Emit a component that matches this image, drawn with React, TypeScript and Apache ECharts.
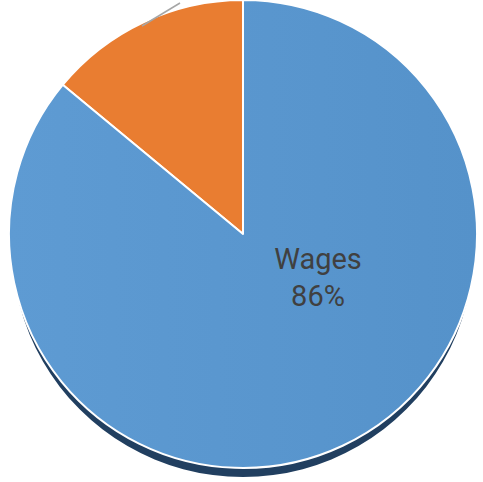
import React, { useEffect, useRef } from "react";
import * as echarts from "echarts";

const categories = ["Other", "Wages"];
const values = [14, 86];
const colors = ["#e97d31", "#5b98d0"];

export default function App() {
  const ref = useRef<HTMLDivElement>(null);
  useEffect(() => {
    if (!ref.current) return;
    const chart = echarts.init(ref.current, null, { renderer: "svg" });
    const total = values.reduce((a, b) => a + b, 0);
    const wIdx = categories.indexOf("Wages");
    const pct = Math.round((values[wIdx] / total) * 100);
    chart.setOption({
      animation: false,
      backgroundColor: "#ffffff",
      series: [
        {
          type: "pie",
          silent: true,
          center: [243, 246],
          radius: 231,
          z: 1,
          label: { show: false },
          labelLine: { show: false },
          itemStyle: { color: "#213f60" },
          data: [{ name: "shadow", value: total }],
        },
        {
          type: "pie",
          center: [243, 234],
          radius: 234,
          startAngle: 90,
          clockwise: false,
          z: 2,
          label: { show: false },
          labelLine: { show: false },
          itemStyle: { borderColor: "#ffffff", borderWidth: 2 },
          data: categories.map((c, i) => ({
            name: c,
            value: values[i],
            itemStyle: {
              color:
                c === "Wages"
                  ? new echarts.graphic.LinearGradient(0, 0, 1, 0, [
                      { offset: 0, color: "#5e9bd3" },
                      { offset: 1, color: "#5592ca" },
                    ])
                  : colors[i],
            },
          })),
        },
      ],
      graphic: [
        {
          type: "line",
          shape: { x1: 142, y1: 26, x2: 180, y2: 3 },
          style: { stroke: "#a6a6a6", lineWidth: 1.5 },
          z: 10,
        },
        {
          type: "text",
          x: 318,
          y: 277,
          z: 10,
          style: {
            text: `${categories[wIdx]}\n${pct}%`,
            fill: "#404040",
            font: '29px "Roboto", "Liberation Sans", sans-serif',
            lineHeight: 37,
            align: "center",
            verticalAlign: "middle",
          },
        },
      ],
    });
    return () => chart.dispose();
  }, []);
  return (
    <div
      ref={ref}
      style={{ position: "fixed", left: 0, top: 0, width: 483, height: 482 }}
    />
  );
}
